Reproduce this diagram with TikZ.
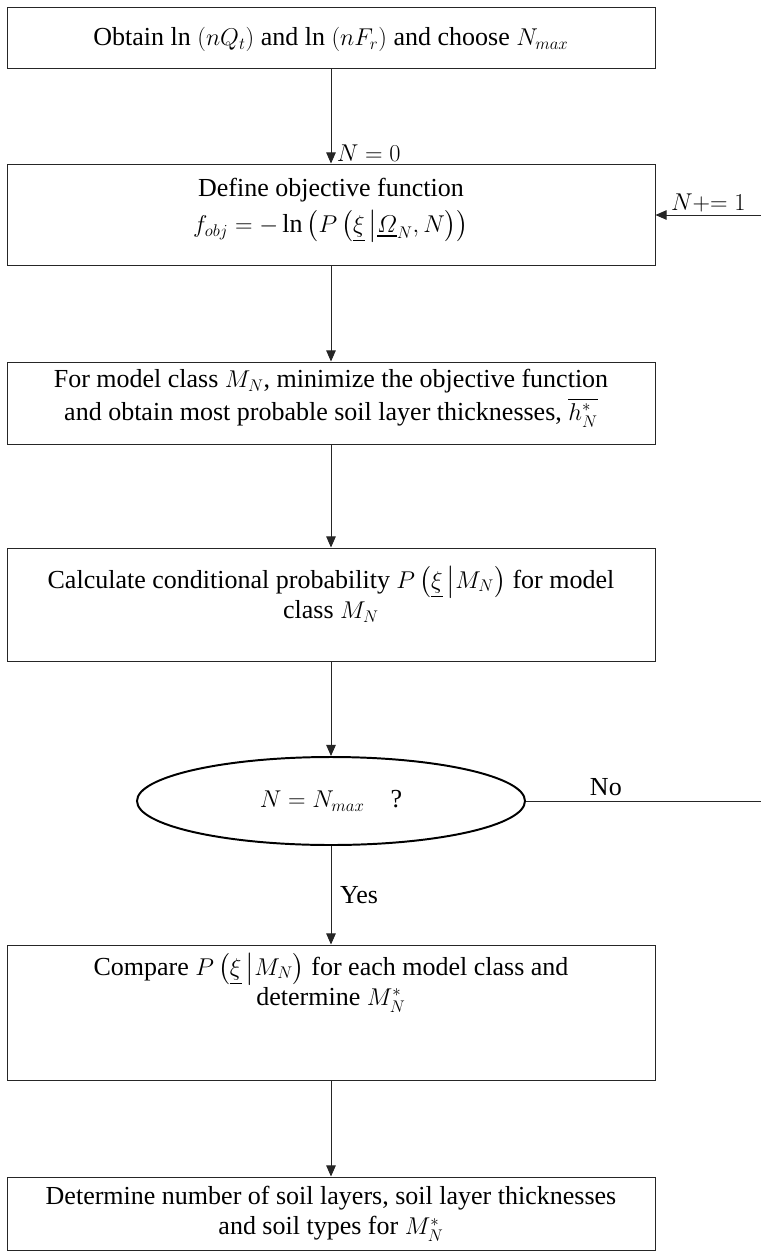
\documentclass[tikz,border=0pt]{standalone}
\usepackage{amsmath}
\usepackage{amssymb}
\usepackage{fontspec}
\setmainfont{Liberation Serif}
\usepackage{tikz}
\usetikzlibrary{arrows.meta,shapes.geometric}

% box text: height, first baseline, lines
\newcommand{\boxtext}[3]{\parbox[c][#1][t]{16.2cm}{\centering\vspace*{\dimexpr #2-\ht\strutbox\relax}\strut #3}}

\begin{document}
\begin{tikzpicture}[
  font=\fontsize{18.5}{21.5}\selectfont,
  stepbox/.style={draw=black!85, line width=0.7pt, inner sep=0pt, minimum width=16.2cm},
  testbox/.style={draw=black, ellipse, line width=1.4pt, inner sep=0pt, minimum width=9.7cm, minimum height=2.2cm},
  flow/.style={draw=black!85, line width=0.7pt, -{Triangle[length=2.8mm,width=2.4mm]}}
]
\useasboundingbox (0,0) rectangle (19.025,-31.45);

\node[stepbox] (obtain) at (8.275,-0.9375) {\boxtext{1.525cm}{0.97cm}{Obtain ln $(nQ_t)$ and ln $(nF_r)$ and choose $N_{max}$}};
\node[stepbox] (objfun) at (8.275,-5.3625) {\boxtext{2.525cm}{0.80cm}{Define objective function\\[3pt] $f_{obj} = -\ln\big(P\,\big(\underline{\xi}\,\big|\underline{\varOmega}_N, N\big)\big)$}};
\node[stepbox] (minimize) at (8.275,-10.075) {\boxtext{2.05cm}{0.64cm}{For model class $M_N$, minimize the objective function\\ and obtain most probable soil layer thicknesses, $\overline{h_N^*}$}};
\node[stepbox] (condprob) at (8.275,-15.1125) {\boxtext{2.825cm}{0.99cm}{Calculate conditional probability $P\,\big(\underline{\xi}\,\big|M_N\big)$ for model\\ class $M_N$}};
\node[testbox] (check) at (8.275,-20.025) {$N = N_{max}$\quad ?};
\node[stepbox] (compare) at (8.275,-25.3125) {\boxtext{3.375cm}{0.74cm}{Compare $P\,\big(\underline{\xi}\,\big|M_N\big)$ for each model class and\\ determine $M_N^*$}};
\node[stepbox] (layers) at (8.275,-30.3375) {\boxtext{1.825cm}{0.69cm}{Determine number of soil layers, soil layer thicknesses\\ and soil types for $M_N^*$}};

\coordinate (noend) at (19.025,-20.025);
\coordinate (loopin) at (19.025,-5.375);

\draw[flow] (obtain) -- node[pos=1, anchor=south west, inner sep=1pt, xshift=1mm]{$N = 0$} (objfun);
\draw[flow] (objfun) -- (minimize);
\draw[flow] (minimize) -- (condprob);
\draw[flow] (condprob) -- (check);
\draw[flow] (check) -- node[midway, anchor=west, xshift=0.1cm]{Yes} (compare);
\draw[flow] (compare) -- (layers);
\draw[draw=black!85, line width=0.7pt] (check.east) -- node[pos=0.34, above]{No} (noend);
\draw[flow] (loopin) -- node[pos=0.5, above, inner sep=2pt]{$N{+}{=}\;1$} (objfun.east |- loopin);
\end{tikzpicture}
\end{document}
